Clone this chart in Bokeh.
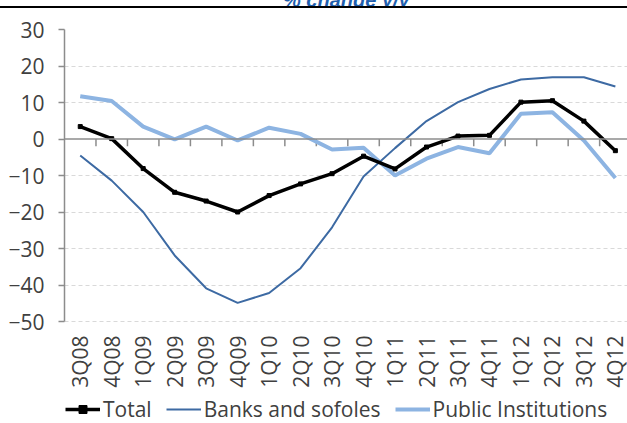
import math
from bokeh.plotting import figure
from bokeh.layouts import column
from bokeh.models import (Range1d, FixedTicker, Legend, LegendItem, Span, Div,
                          ColumnDataSource)
from bokeh.core.properties import value
from bokeh.embed import file_html
from bokeh.resources import INLINE

quarters = ["3Q08", "4Q08", "1Q09", "2Q09", "3Q09", "4Q09", "1Q10", "2Q10", "3Q10",
            "4Q10", "1Q11", "2Q11", "3Q11", "4Q11", "1Q12", "2Q12", "3Q12", "4Q12"]
total = [3.4, 0.1, -8.1, -14.6, -17.0, -20.0, -15.5, -12.3, -9.5,
         -4.7, -8.2, -2.2, 0.8, 1.0, 10.1, 10.5, 4.9, -3.2]
banks = [-4.5, -11.4, -20.0, -31.9, -40.9, -44.9, -42.2, -35.4, -24.2,
         -10.3, -2.5, 4.9, 10.1, 13.7, 16.3, 16.9, 16.9, 14.4]
public = [11.7, 10.4, 3.4, -0.1, 3.4, -0.4, 3.1, 1.4, -2.9,
          -2.4, -10.0, -5.4, -2.2, -3.9, 6.9, 7.3, -0.4, -10.7]
y_ticks = [-50, -40, -30, -20, -10, 0, 10, 20, 30]
title_text = "% change y/y"

xs = list(range(len(quarters)))
FONT = "Open Sans"
FSIZE = "21px"
TXT = "#404040"
AXIS_GRAY = "#8c8c8c"
Y_MIN, Y_MAX = y_ticks[0], y_ticks[-1]
PX_PER_UNIT = 292 / (Y_MAX - Y_MIN)          # frame pixels per y unit
Y_BOTTOM = Y_MIN - 102 / PX_PER_UNIT           # extra room below for labels/legend

# header: title, mostly cut off at the top edge as in the source
header = Div(
    text=('<div style="position:relative;width:627px;height:6px;">'
          '<span style="position:absolute;left:283px;top:-17.5px;line-height:23px;'
          'white-space:nowrap;font-family:\'Liberation Sans\';font-size:20px;'
          'font-weight:bold;font-style:italic;color:#1f5fae;">'
          + title_text + '</span></div>'),
    width=627, height=6, margin=0)

# figure; its top 2px carry the black rule (host background behind a transparent border)
p = figure(width=627, height=417, output_backend="svg", toolbar_location=None,
           x_range=Range1d(-0.5, len(quarters) - 0.615), y_range=Range1d(Y_BOTTOM, Y_MAX),
           min_border_left=64, min_border_right=0, min_border_top=23, min_border_bottom=0,
           margin=0,
           styles={"background": "linear-gradient(to bottom, #000 0px, #000 2px, #fff 2px, #fff 100%)"})
p.outline_line_color = None
p.background_fill_color = "white"
p.border_fill_color = None
p.xaxis.visible = False

# y axis
p.yaxis.ticker = FixedTicker(ticks=y_ticks)
p.yaxis.bounds = (Y_MIN, Y_MAX)
p.yaxis.axis_line_color = AXIS_GRAY
p.yaxis.axis_line_width = 1.5
p.yaxis.major_tick_line_color = AXIS_GRAY
p.yaxis.major_tick_line_width = 1.5
p.yaxis.major_tick_out = 6
p.yaxis.major_tick_in = 0
p.yaxis.minor_tick_line_color = None
p.yaxis.major_label_standoff = 14
p.yaxis.major_label_text_font = FONT
p.yaxis.major_label_text_font_size = FSIZE
p.yaxis.major_label_text_color = TXT

# grid
p.xgrid.grid_line_color = None
p.ygrid.ticker = FixedTicker(ticks=[t for t in y_ticks if t != 0])
p.ygrid.grid_line_color = "#d9d9d9"
p.ygrid.grid_line_dash = "4 3"
p.ygrid.grid_line_width = 1.2

# zero axis line with category-boundary ticks
p.add_layout(Span(location=0, dimension="width", line_color=AXIS_GRAY, line_width=1.5))
bounds = [i + 0.5 for i in xs[:-1]]
p.segment(x0=bounds, y0=[0] * len(bounds), x1=bounds, y1=[-2] * len(bounds),
          line_color=AXIS_GRAY, line_width=1.5)

# category labels, vertical, under the plot area
lab_y = Y_MIN - 14 / PX_PER_UNIT
p.text(x=xs, y=[lab_y] * len(xs), text=quarters, angle=math.pi / 2,
       text_align="right", text_baseline="middle",
       text_font=value(FONT), text_font_size=FSIZE, text_color=TXT)

src = ColumnDataSource(dict(x=xs, total=total, banks=banks, public=public))
r_pub = p.line("x", "public", source=src, line_color="#8db4e2", line_width=4)
r_bank = p.line("x", "banks", source=src, line_color="#3d6aa3", line_width=2)
r_tot = p.line("x", "total", source=src, line_color="black", line_width=3.5)
r_tot_m = p.scatter("x", "total", source=src, marker="square", size=4, color="black")

legend = Legend(items=[LegendItem(label="Total", renderers=[r_tot, r_tot_m]),
                       LegendItem(label="Banks and sofoles", renderers=[r_bank]),
                       LegendItem(label="Public Institutions", renderers=[r_pub])],
                orientation="horizontal", location=(1, 0),
                label_text_font=FONT, label_text_font_size=FSIZE, label_text_color=TXT,
                glyph_width=35, glyph_height=20, label_height=20, label_standoff=3,
                spacing=14, padding=0, margin=0,
                border_line_color=None, background_fill_alpha=0)
p.add_layout(legend)

layout = column(header, p, spacing=0)
open("out.html", "w").write(file_html(layout, INLINE))
